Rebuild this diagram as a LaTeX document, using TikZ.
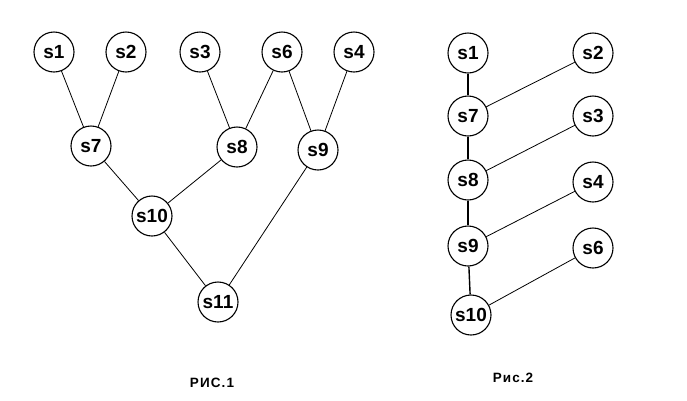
\documentclass[tikz,border=0pt]{standalone}
\usepackage{fontspec}
\setmainfont{Liberation Sans}
\usepackage{tikz}

\tikzset{
  vert/.style={circle, draw, line width=1.1pt, minimum size=40pt, inner sep=0pt,
    font=\fontsize{19}{19}\selectfont\bfseries},
  edge/.style={line width=0.8pt},
  stem/.style={line width=1.4pt},
  caption/.style={font=\fontsize{13.5}{13.5}\selectfont\bfseries}
}

\begin{document}
\begin{tikzpicture}[x=1pt, y=-1pt]
    \useasboundingbox (0,0) rectangle (687,400);
    % Fig. 1: tree
    \node[vert] (a1) at (54,52) {s1};
    \node[vert] (a2) at (126,52) {s2};
    \node[vert] (a3) at (200,52) {s3};
    \node[vert] (a6) at (282,52) {s6};
    \node[vert] (a4) at (354,52) {s4};
    \node[vert] (a7) at (91,146) {s7};
    \node[vert] (a8) at (237,147) {s8};
    \node[vert] (a9) at (318,150) {s9};
    \node[vert] (a10) at (152,216) {s10};
    \node[vert] (a11) at (218,302) {s11};
    \draw[edge] (a1) -- (a7);
    \draw[edge] (a2) -- (a7);
    \draw[edge] (a3) -- (a8);
    \draw[edge] (a6) -- (a8);
    \draw[edge] (a6) -- (a9);
    \draw[edge] (a4) -- (a9);
    \draw[edge] (a7) -- (a10);
    \draw[edge] (a8) -- (a10);
    \draw[edge] (a10) -- (a11);
    \draw[edge] (a9) -- (a11);
    \node[caption] (cap1) at (212,383) {\addfontfeature{LetterSpace=8}РИС.1};

    % Fig. 2: chain
    \node[vert] (b1) at (468,53) {s1};
    \node[vert] (b2) at (593,53) {s2};
    \node[vert] (b7) at (468,116) {s7};
    \node[vert] (b3) at (593,116) {s3};
    \node[vert] (b8) at (468,180) {s8};
    \node[vert] (b4) at (593,182) {s4};
    \node[vert] (b9) at (468,246) {s9};
    \node[vert] (b6) at (593,248) {s6};
    \node[vert] (b10) at (471,315) {s10};
    \draw[stem] (b1) -- (b7);
    \draw[stem] (b7) -- (b8);
    \draw[stem] (b8) -- (b9);
    \draw[stem] (b9) -- (b10);
    \draw[edge] (b2) -- (b7);
    \draw[edge] (b3) -- (b8);
    \draw[edge] (b4) -- (b9);
    \draw[edge] (b6) -- (b10);
    \node[caption] (cap2) at (513,378) {\addfontfeature{LetterSpace=8}Рис.2};
\end{tikzpicture}
\end{document}
